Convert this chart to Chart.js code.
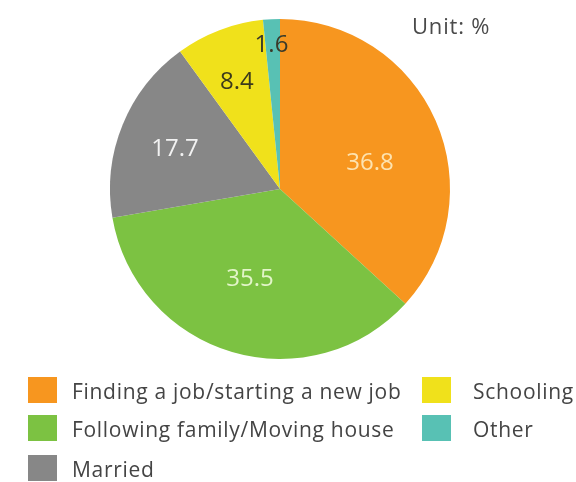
<!DOCTYPE html>
<html>
<head>
<meta charset="utf-8">
<script src="https://cdn.jsdelivr.net/npm/chart.js@4.4.1/dist/chart.umd.min.js"></script>
<style>
  html, body { margin: 0; padding: 0; background: #fff; }
  #wrap { position: relative; width: 576px; height: 482px; }
</style>
</head>
<body>
<div id="wrap"><canvas id="pie" width="576" height="482"></canvas></div>
<script>
// reasons for moving, share in percent
const reasons = [
  "Finding a job/starting a new job",
  "Following family/Moving house",
  "Married",
  "Schooling",
  "Other"
];
const shares = [36.8, 35.5, 17.7, 8.4, 1.6];
const sliceColors = ["#f7961f", "#7cc242", "#878787", "#f0e11b", "#58c1b4"];
const valueColors = ["#fde3b0", "#e3f5c9", "#f2f2f2", "#3b3a1c", "#3a3a2a"];
const unitText = "Unit: %";

const FONT = "'Open Sans', sans-serif";

// where each value sits: fraction of radius, extra turn in degrees
const valuePlace = [
  { r: 0.55, turn: 8 },
  { r: 0.56, turn: 2 },
  { r: 0.66, turn: -1.5 },
  { r: 0.68, turn: -1 },
  { r: 0.85, turn: -0.5 }
];

// legend grid: rows fill column one first, then column two
const legendCols = [28, 422];
const legendRows = [377, 415, 455];
const legendOrder = [[0, 0], [0, 1], [0, 2], [1, 0], [1, 1]];

const pieExtras = {
  id: "pieExtras",
  afterDatasetsDraw(chart) {
    const ctx = chart.ctx;
    const meta = chart.getDatasetMeta(0);
    ctx.save();
    ctx.textAlign = "center";
    ctx.textBaseline = "middle";
    ctx.font = "24px " + FONT;
    meta.data.forEach((arc, i) => {
      const p = arc.getProps(["x", "y", "startAngle", "endAngle", "outerRadius"], true);
      const a = (p.startAngle + p.endAngle) / 2 + valuePlace[i].turn * Math.PI / 180;
      const rr = p.outerRadius * valuePlace[i].r;
      ctx.fillStyle = valueColors[i];
      ctx.fillText(shares[i].toFixed(1), p.x + Math.cos(a) * rr, p.y + Math.sin(a) * rr);
    });

    // unit note, top right
    ctx.textAlign = "left";
    ctx.textBaseline = "alphabetic";
    ctx.fillStyle = "#4a4a4a";
    ctx.font = "22px " + FONT;
    ctx.letterSpacing = "0.8px";
    ctx.fillText(unitText, 412, 34);

    // legend
    ctx.font = "21px " + FONT;
    ctx.letterSpacing = "0.7px";
    reasons.forEach((name, i) => {
      const [c, r] = legendOrder[i];
      const x = legendCols[c];
      const y = legendRows[r];
      ctx.fillStyle = sliceColors[i];
      ctx.fillRect(x, y, 29, 26);
      ctx.fillStyle = "#444";
      ctx.fillText(name, x + (c === 0 ? 44 : 51), y + 22);
    });
    ctx.restore();
  }
};

new Chart(document.getElementById("pie"), {
  type: "pie",
  data: {
    labels: reasons,
    datasets: [{
      data: shares,
      backgroundColor: sliceColors,
      borderWidth: 0
    }]
  },
  options: {
    responsive: false,
    animation: false,
    devicePixelRatio: 1,
    layout: { padding: { left: 110, right: 126, top: 19, bottom: 123 } },
    plugins: {
      legend: { display: false },
      tooltip: { enabled: false }
    }
  },
  plugins: [pieExtras]
});
</script>
</body>
</html>
